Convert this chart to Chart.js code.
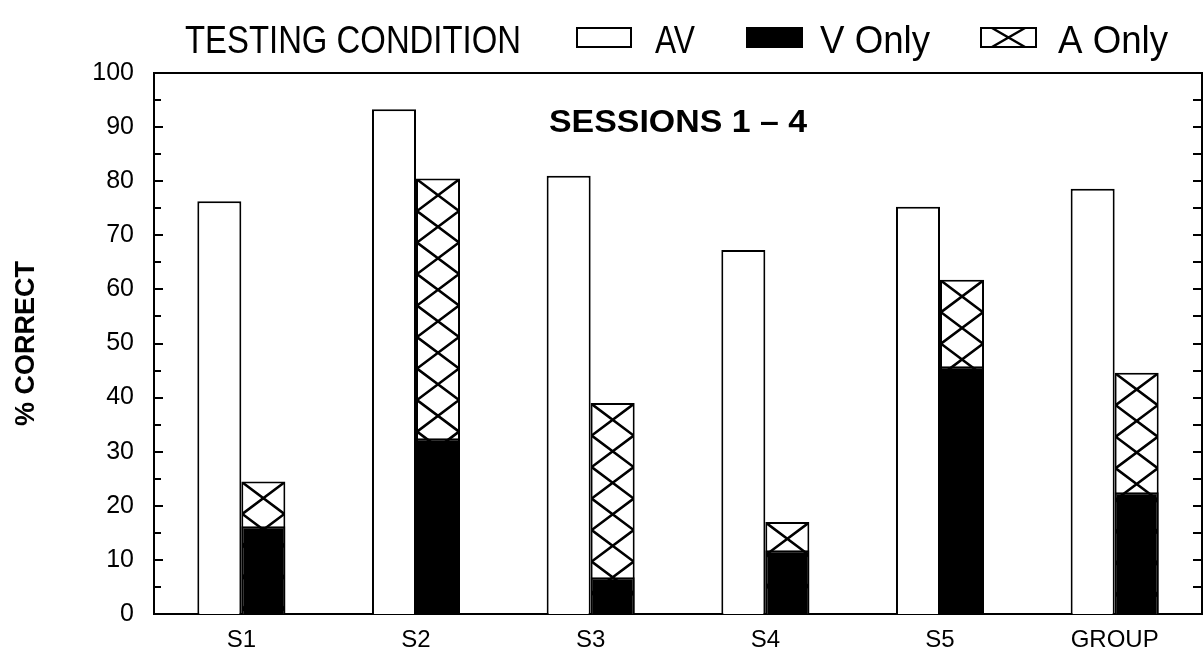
<!DOCTYPE html>
<html>
<head>
<meta charset="utf-8">
<script src="https://cdn.jsdelivr.net/npm/chart.js@4/dist/chart.umd.min.js"></script>
<style>
  html, body { margin: 0; padding: 0; background: #ffffff; }
  #c { display: block; }
</style>
</head>
<body>
<canvas id="c" width="1203" height="657"></canvas>
<script>
// ---- data ----
const categories   = ['S1', 'S2', 'S3', 'S4', 'S5', 'GROUP'];
const avValues     = [76.3, 93.3, 81.0, 67.3, 75.3, 78.6];
const vOnlyValues  = [16.2, 32.5, 6.8, 11.8, 45.8, 22.5];
const aOnlyValues  = [24.5, 80.5, 39.0, 17.0, 61.8, 44.6];
const yTickValues  = [0, 10, 20, 30, 40, 50, 60, 70, 80, 90, 100];
const seriesLabels = ['AV', 'V Only', 'A Only'];
const legendTitle  = 'TESTING CONDITION';
const panelNote    = 'SESSIONS 1 \u2013 4';
const yAxisTitle   = '% CORRECT';

const FONT = '"Liberation Sans", Arial, Helvetica, sans-serif';

function drawCrossHatch(ctx, left, top, w, h, lw) {
  if (h <= 0) return;
  ctx.save();
  ctx.beginPath();
  ctx.rect(left, top, w, h);
  ctx.clip();
  const P = w * 0.75;
  ctx.beginPath();
  for (let y0 = top - P; y0 < top + h + P; y0 += P) {
    ctx.moveTo(left, y0); ctx.lineTo(left + w, y0 + P);
    ctx.moveTo(left, y0 + P); ctx.lineTo(left + w, y0);
  }
  ctx.lineWidth = lw;
  ctx.strokeStyle = '#000';
  ctx.stroke();
  ctx.restore();
}

function scaledText(ctx, text, x, baseline, font, targetWidth) {
  ctx.save();
  ctx.font = font;
  const w = ctx.measureText(text).width;
  const s = targetWidth / w;
  ctx.translate(x, baseline);
  ctx.scale(s, 1);
  ctx.textAlign = 'left';
  ctx.textBaseline = 'alphabetic';
  ctx.fillStyle = '#000';
  ctx.fillText(text, 0, 0);
  ctx.restore();
}

const hatchPlugin = {
  id: 'hatch',
  afterDatasetDraw(chart, args) {
    if (args.index !== 2) return;
    const ctx = chart.ctx;
    args.meta.data.forEach(el => {
      const p = el.getProps(['x', 'y', 'base', 'width'], true);
      const left = p.x - p.width / 2 + 1;
      const top = p.y + 1;
      drawCrossHatch(ctx, left, top, p.width - 2, p.base - p.y - 1, 2.6);
    });
  }
};

const framePlugin = {
  id: 'frame',
  afterDatasetsDraw(chart) {
    const ctx = chart.ctx;
    const a = chart.chartArea;
    const ys = chart.scales.y;
    ctx.save();
    ctx.strokeStyle = '#000';
    ctx.lineWidth = 2;
    // top and right borders
    ctx.beginPath();
    ctx.moveTo(a.left - 1, a.top);
    ctx.lineTo(a.right, a.top);
    ctx.lineTo(a.right, a.bottom + 1);
    ctx.stroke();
    // inward ticks every 5 units
    ctx.beginPath();
    for (let v = 5; v < 100; v += 5) {
      const y = Math.round(ys.getPixelForValue(v));
      const len = v % 10 === 0 ? 9 : 7;
      ctx.moveTo(a.left, y); ctx.lineTo(a.left + len, y);
      ctx.moveTo(a.right, y); ctx.lineTo(a.right - 9, y);
    }
    ctx.stroke();
    // panel note
    const cx = (a.left + a.right) / 2;
    const tw = 258;
    scaledText(ctx, panelNote, cx - tw / 2, a.top + 59, 'bold 31px ' + FONT, tw);
    ctx.restore();
  },
  afterDraw(chart) {
    const ctx = chart.ctx;
    const ds = chart.data.datasets;
    ctx.save();
    const font = '38px ' + FONT;
    const baseline = 53;
    scaledText(ctx, legendTitle, 185, baseline, font, 336);
    const items = [
      { box: 577, bw: 54, tx: 655, tw: 40 },
      { box: 747, bw: 55, tx: 820, tw: 110 },
      { box: 981, bw: 55, tx: 1058, tw: 110 }
    ];
    const by = 28, bh = 19;
    items.forEach((it, i) => {
      const d = ds[i];
      ctx.fillStyle = d.backgroundColor;
      ctx.fillRect(it.box, by, it.bw, bh);
      ctx.strokeStyle = '#000';
      ctx.lineWidth = 2;
      ctx.strokeRect(it.box, by, it.bw, bh);
      if (i === 2) {
        ctx.save();
        ctx.beginPath();
        ctx.rect(it.box, by, it.bw, bh);
        ctx.clip();
        ctx.beginPath();
        const m = it.bw * 0.2;
        ctx.moveTo(it.box + m, by); ctx.lineTo(it.box + it.bw - m, by + bh);
        ctx.moveTo(it.box + it.bw - m, by); ctx.lineTo(it.box + m, by + bh);
        ctx.lineWidth = 2.4;
        ctx.stroke();
        ctx.restore();
      }
      scaledText(ctx, d.label, it.tx, baseline, font, it.tw);
    });
    ctx.restore();
  }
};

new Chart(document.getElementById('c'), {
  type: 'bar',
  data: {
    labels: categories,
    datasets: [
      { label: seriesLabels[0], data: avValues, stack: 'av',
        backgroundColor: '#ffffff', borderColor: '#000000', borderWidth: 2, borderSkipped: 'start' },
      { label: seriesLabels[1], data: vOnlyValues, stack: 'va',
        backgroundColor: '#000000', borderColor: '#000000', borderWidth: 2, borderSkipped: 'start' },
      { label: seriesLabels[2], data: aOnlyValues, stack: 'va',
        backgroundColor: '#ffffff', borderColor: '#000000', borderWidth: 2, borderSkipped: 'start' }
    ]
  },
  options: {
    responsive: false,
    animation: false,
    devicePixelRatio: 1,
    layout: { padding: { top: 73, left: 10, right: 1, bottom: 0 } },
    datasets: { bar: { categoryPercentage: 0.504, barPercentage: 1.0 } },
    scales: {
      x: {
        grid: { display: false, drawTicks: false },
        border: { display: true, color: '#000', width: 2 },
        ticks: { color: '#000', font: { family: FONT, size: 24 }, padding: 12, maxRotation: 0 },
        afterFit(s) { s.height = 43; }
      },
      y: {
        min: 0, max: 100, stacked: false,
        grid: { display: false, drawTicks: false },
        border: { display: true, color: '#000', width: 2 },
        ticks: { color: '#000', font: { family: FONT, size: 25 }, padding: 20 },
        afterBuildTicks(s) { s.ticks = yTickValues.map(v => ({ value: v })); },
        title: { display: true, text: yAxisTitle, color: '#000',
                 font: { family: FONT, size: 27, weight: 'bold' }, padding: { top: 0, bottom: 0 } },
        afterFit(s) { s.width = 144; }
      }
    },
    plugins: { legend: { display: false }, tooltip: { enabled: false } }
  },
  plugins: [hatchPlugin, framePlugin]
});
</script>
</body>
</html>
